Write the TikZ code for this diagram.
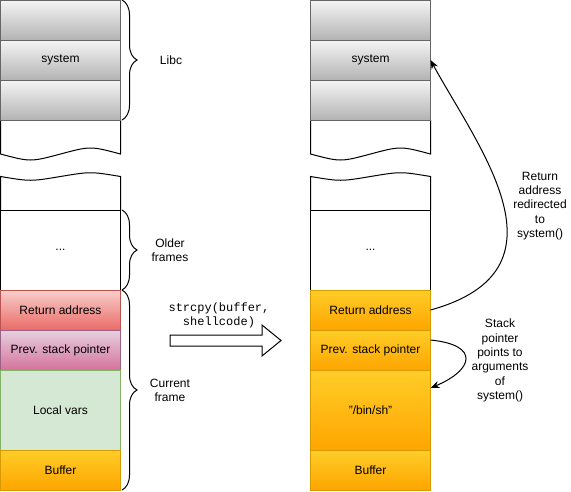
\documentclass[tikz,border=0pt]{standalone}
\usepackage{fontspec}
\setmainfont{Liberation Sans}
\setmonofont{Liberation Mono}
\usetikzlibrary{arrows.meta,decorations.pathreplacing}

\definecolor{graytop}{HTML}{F5F5F5}
\definecolor{graybot}{HTML}{B3B3B3}
\definecolor{grayline}{HTML}{666666}
\definecolor{redtop}{HTML}{F8CECC}
\definecolor{redbot}{HTML}{EA6B66}
\definecolor{redline}{HTML}{B85450}
\definecolor{purpletop}{HTML}{E6D0DE}
\definecolor{purplebot}{HTML}{D5739D}
\definecolor{purpleline}{HTML}{996185}
\definecolor{greenfill}{HTML}{D5E8D4}
\definecolor{greenline}{HTML}{82B366}
\definecolor{orangetop}{HTML}{FFCD28}
\definecolor{orangebot}{HTML}{FFA500}
\definecolor{orangeline}{HTML}{D79B00}

\newcommand*\cellwidth{120pt}
\newcommand*\cellheight{40pt}
\tikzset{cell/.style={
    draw,
    line width=1pt,
    rectangle,
    anchor=north west,
    inner sep=0pt,
    outer sep=0pt,
    minimum width=\cellwidth,
    minimum height=#1*\cellheight,
    align=center
}, cell/.default=1,
graycell/.style={cell=#1, draw=grayline, top color=graytop, bottom color=graybot},
graycell/.default=1,
redcell/.style={cell=#1, draw=redline, top color=redtop, bottom color=redbot},
redcell/.default=1,
purplecell/.style={cell=#1, draw=purpleline, top color=purpletop, bottom color=purplebot},
purplecell/.default=1,
greencell/.style={cell=#1, draw=greenline, fill=greenfill},
greencell/.default=1,
orangecell/.style={cell=#1, draw=orangeline, top color=orangetop, bottom color=orangebot},
orangecell/.default=1,
stackbrace/.style={decorate, decoration={brace, amplitude=15pt}, line width=1pt},
pointer/.style={line width=1pt, -{Stealth[length=9pt,width=7pt]}},
note/.style={align=center}
}

\begin{document}
\begin{tikzpicture}[x=1pt,y=-1pt,font=\fontsize{12}{14.4}\selectfont]
    \useasboundingbox (0,0) rectangle (571,491);

    % First the broken pieces of memory, in both stacks.
    \foreach \x in {0.5,310.5} {
        \filldraw[fill=white, line width=1pt, shift={(\x,0)}]
            (0,120) -- (0,154) .. controls (30,162) .. (60,154)
            .. controls (90,146) .. (120,154) -- (120,120);
        \filldraw[fill=white, line width=1pt, shift={(\x,0)}]
            (0,210) -- (0,176.5) .. controls (30,181.5) .. (60,176.5)
            .. controls (90,171.5) .. (120,176.5) -- (120,210);
    }

    % Libc cells.
    \foreach \col/\x in {l/0.5,r/310.5}
        \foreach \i/\txt in {0/{},1/system,2/{}}
            \node[graycell] (libc\i\col) at (\x,\i*40) {\txt};

    % Left stack, before the copy.
    \node[cell=2] (olderl) at (0.5,210) {...};
    \node[redcell] (retl) at (0.5,290) {Return address};
    \node[purplecell] (prevl) at (0.5,330) {Prev. stack pointer};
    \node[greencell=2] (localsl) at (0.5,370) {Local vars};
    \node[orangecell] (bufl) at (0.5,450) {Buffer};

    % Right stack, after the copy.
    \node[cell=2] (olderr) at (310.5,210) {...};
    \node[orangecell] (retr) at (310.5,290) {Return address};
    \node[orangecell] (prevr) at (310.5,330) {Prev. stack pointer};
    \node[orangecell=2] (binsh) at (310.5,370) {"/bin/sh"};
    \node[orangecell] (bufr) at (310.5,450) {Buffer};

    % Braces and their labels.
    \draw[stackbrace] ([xshift=1.5pt]libc0l.north east) -- ([xshift=1.5pt]libc2l.south east);
    \draw[stackbrace] ([xshift=1.5pt]olderl.north east) -- ([xshift=1.5pt]olderl.south east);
    \draw[stackbrace] ([xshift=1.5pt]retl.north east) -- ([xshift=1.5pt]bufl.south east);
    \node[note] (libclabel) at (171,60) {Libc};
    \node[note] (olderlabel) at (170,250.5) {Older\\frames};
    \node[note] (currentlabel) at (170,390.5) {Current\\frame};

    % The copy.
    \node[note, font=\ttfamily\fontsize{12}{14.4}\selectfont] (copy) at (219,315.5)
        {strcpy(buffer,\\shellcode)};
    \draw[line width=1pt, fill=white] (170,335) -- (262,335) -- (262,325) -- (281,340.5)
        -- (262,356) -- (262,346) -- (170,346) -- cycle;

    % Where things point after the overflow.
    \draw[pointer] (retr.east) .. controls +(145,-40) and +(48,88) .. (libc1r.east);
    \draw[pointer] ([yshift=10pt]prevr.east) .. controls +(50,5) and +(43,-18)
        .. ([yshift=22pt]binsh.east);
    \node[note] (redirectlabel) at (540,206)
        {Return\\address\\redirected\\to\\system()};
    \node[note] (argslabel) at (500,360.5)
        {Stack\\pointer\\points to\\arguments\\of\\system()};

\end{tikzpicture}
\end{document}
